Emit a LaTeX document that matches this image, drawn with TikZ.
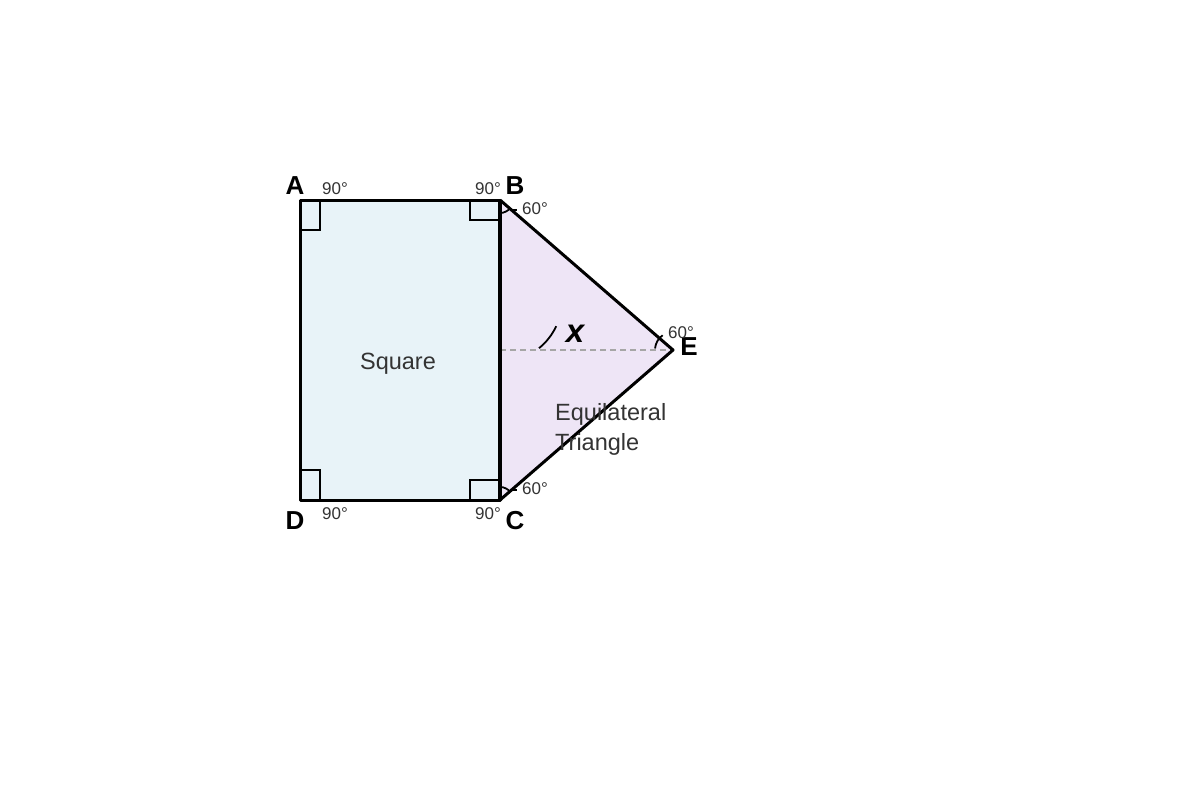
\documentclass[tikz,border=0pt]{standalone}
\usepackage{fontspec}
\setmainfont{Liberation Sans}
\usetikzlibrary{calc}
\begin{document}
\begin{tikzpicture}[x=1pt,y=-1pt,
  edge/.style={line width=3pt, line join=round},
  angmark/.style={line width=1.8pt},
  vlabel/.style={font=\fontsize{26}{28}\selectfont\bfseries, text=black, inner sep=0pt},
  alabel/.style={font=\fontsize{17}{19}\selectfont, text=black!80, inner sep=0pt},
  tlabel/.style={font=\fontsize{23.5}{30}\selectfont, text=black!80, inner sep=0pt}]
\definecolor{sqfill}{HTML}{E8F3F8}
\definecolor{trfill}{HTML}{EEE5F6}
\useasboundingbox (0,0) rectangle (1200,800);
\fill[white] (0,0) rectangle (1200,800);
\coordinate (A) at (300,200);
\coordinate (B) at (500,200);
\coordinate (C) at (500,500);
\coordinate (D) at (300,500);
\coordinate (E) at (673,350);
\coordinate (M) at (500,350);
\fill[sqfill] (A) -- (B) -- (C) -- (D) -- cycle;
\fill[trfill] (B) -- (E) -- (C) -- cycle;
\draw[gray!70, line width=1.3pt, dash pattern=on 6pt off 4pt] (M) -- (E);
% right angles
\draw[angmark] (300,230) -- (320,230) -- (320,200);
\draw[angmark] (470,200) -- (470,220) -- (500,220);
\draw[angmark] (300,470) -- (320,470) -- (320,500);
\draw[angmark] (470,500) -- (470,480) -- (500,480);
% 60 deg arcs
\draw[angmark] (500,213) arc[start angle=90, end angle=38, radius=13];
\draw[angmark] (511,210) -- (517,210);
\draw[angmark] (500,487) arc[start angle=-90, end angle=-38, radius=13];
\draw[angmark] (511,490) -- (517,490);
\draw[angmark] ($(E)+(235:18)$) arc[start angle=235, end angle=185, radius=18];
% x arc
\draw[angmark] (556.2,326.2) arc[start angle=25, end angle=51, radius=62];
% edges
\draw[edge] (A) -- (B) -- (C) -- (D) -- cycle;
\draw[edge] (B) -- (E) -- (C);
\draw[line width=4pt] (B) -- (C);
% labels
\node[vlabel] (lA) at (295,186) {A};
\node[vlabel] (lB) at (515,186) {B};
\node[vlabel] (lC) at (515,521) {C};
\node[vlabel] (lD) at (295,521) {D};
\node[vlabel] (lE) at (689,347) {E};
\node[alabel] (a1) at (335,189) {90°};
\node[alabel] (a2) at (488,189) {90°};
\node[alabel] (a3) at (335,514) {90°};
\node[alabel] (a4) at (488,514) {90°};
\node[alabel] (a5) at (535,209) {60°};
\node[alabel] (a6) at (535,489) {60°};
\node[alabel] (a7) at (681,333) {60°};
\node[font=\fontsize{33}{35}\selectfont\bfseries\itshape, inner sep=0pt] (x) at (575,334) {x};
\node[tlabel] (sq) at (398,364) {Square};
\node[tlabel, anchor=west, align=left] (tri) at (555,429) {Equilateral\\Triangle};
\end{tikzpicture}
\end{document}
